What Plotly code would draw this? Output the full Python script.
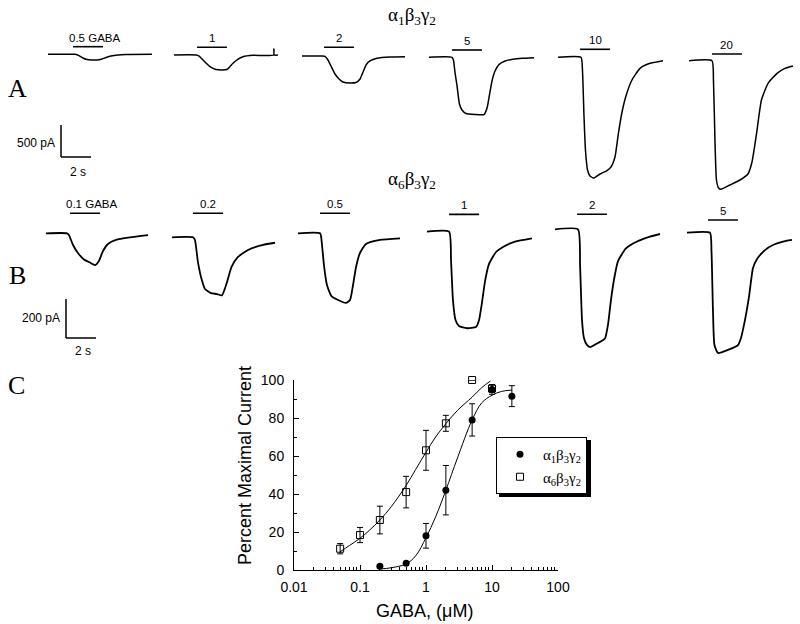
import plotly.graph_objects as go

W, H = 800, 624

# ---------------- Panel A: alpha1beta3gamma2 current traces (time s, current pA) ----------------
A_labels = ["0.5 GABA", "1", "2", "5", "10", "20"]
A1_t = [0, 0.8, 1.8, 2.07, 2.33, 2.6, 2.93, 3.27, 3.6, 3.87, 4.2, 4.67, 5.2, 6.93]
A1_i = [0, 0, 0, -20, -58, -81, -89, -89, -73, -50, -27, -11, -3, 0]
A2_t = [0, 1.47, 1.67, 2.0, 2.4, 2.8, 3.2, 3.53, 3.93, 4.27, 4.6, 5.27, 6.64, 6.66, 6.68, 6.93]
A2_i = [0, 0, -16, -94, -182, -227, -234, -227, -130, -63, -26, -5, 0, 95, 0, 0]
A3_t = [0, 1.33, 1.53, 1.73, 1.93, 2.2, 2.47, 2.73, 3.2, 3.6, 3.87, 4.07, 4.27, 4.53, 5.0, 5.87, 6.87]
A3_i = [0, 0, -5, -62, -156, -281, -359, -406, -422, -414, -359, -250, -141, -78, -36, -16, -11]
A4_t = [0, 1.53, 1.63, 1.73, 1.87, 2.03, 2.2, 2.47, 3.07, 3.67, 3.87, 4.03, 4.2, 4.4, 4.67, 5.07, 5.6, 6.2, 7.0]
A4_i = [0, 0, -42, -230, -448, -730, -823, -878, -894, -894, -792, -589, -370, -214, -113, -58, -31, -16, -6]
A5_t = [0, 1.53, 1.63, 1.73, 1.83, 1.97, 2.13, 2.37, 2.8, 3.27, 3.53, 3.8, 4.03, 4.27, 4.53, 4.93, 5.47, 6.13, 7.0]
A5_i = [0, 0, -198, -902, -1448, -1761, -1855, -1886, -1823, -1769, -1714, -1558, -1183, -855, -605, -355, -172, -94, -53]
A6_t = [0, 1.53, 1.63, 1.73, 1.83, 1.97, 2.13, 2.73, 3.4, 3.93, 4.2, 4.5, 4.83, 5.27, 5.87, 6.4, 6.93]
A6_i = [0, 0, -302, -1239, -1864, -1989, -2009, -1942, -1864, -1770, -1583, -1145, -614, -353, -197, -119, -83]
A_onset = [1.67, 1.53, 1.47, 1.53, 1.47, 1.53]   # GABA application start (s), 2 s long

# ---------------- Panel B: alpha6beta3gamma2 current traces ----------------
B_labels = ["0.1 GABA", "0.2", "0.5", "1", "2", "5"]
B1_t = [0, 1.4, 1.53, 1.8, 2.13, 2.53, 2.93, 3.27, 3.53, 3.8, 4.13, 4.67, 5.6, 6.8]
B1_i = [0, 0, -9, -60, -101, -134, -150, -163, -142, -91, -55, -34, -21, -9]
B2_t = [0, 1.4, 1.53, 1.73, 1.97, 2.2, 2.6, 3.0, 3.33, 3.63, 3.97, 4.4, 5.07, 6.07, 6.87]
B2_i = [0, 0, -14, -127, -214, -265, -286, -291, -298, -239, -152, -101, -65, -39, -28]
B3_t = [0, 1.47, 1.6, 1.73, 1.93, 2.23, 2.67, 3.2, 3.47, 3.67, 3.87, 4.13, 4.53, 5.47, 6.8]
B3_i = [0, 0, -60, -163, -265, -322, -342, -357, -342, -265, -173, -101, -55, -34, -26]
B4_t = [0, 1.47, 1.6, 1.73, 1.9, 2.13, 2.67, 3.27, 3.47, 3.67, 3.87, 4.13, 4.6, 5.07, 5.87, 7.0]
B4_i = [0, 0, -145, -350, -453, -484, -495, -489, -453, -361, -253, -166, -104, -78, -51, -34]
B5_t = [0, 1.53, 1.67, 1.8, 1.93, 2.13, 2.33, 2.87, 3.33, 3.53, 3.73, 3.93, 4.2, 4.73, 5.4, 6.33, 7.0]
B5_i = [0, 0, -183, -465, -557, -593, -604, -583, -560, -491, -363, -260, -163, -98, -65, -38, -24]
B6_t = [0, 1.53, 1.63, 1.73, 1.83, 2.07, 2.73, 3.4, 3.6, 3.8, 4.13, 4.4, 4.67, 5.2, 5.73, 6.4, 7.0]
B6_i = [0, 0, -89, -396, -576, -617, -601, -576, -540, -473, -330, -181, -135, -89, -63, -46, -37]
B_onset = [1.6, 1.4, 1.47, 1.47, 1.47, 1.4]

# ---------------- Panel C: concentration-response ----------------
conc_a1 = [0.2, 0.5, 1, 2, 5, 10, 20]
resp_a1 = [2, 3.5, 18, 42, 79, 95, 91.5]
err_a1 = [0, 0, 6.5, 13, 8.5, 2.5, 5.5]
conc_a6 = [0.05, 0.1, 0.2, 0.5, 1, 2, 5, 10]
resp_a6 = [11.2, 18.4, 26.3, 41, 63, 77.2, 100, 95.5]
err_a6 = [2.7, 4, 7.3, 8.3, 10.5, 4.2, 0, 2]
fit_a1_x = [0.2, 0.3, 0.5, 0.7, 1, 1.4, 2, 3, 5, 7, 10, 14, 20]
fit_a1_y = [0.5, 1.2, 3.2, 7.5, 17, 28, 42, 59, 79, 88, 92, 94, 94.7]
fit_a6_x = [0.05, 0.07, 0.1, 0.14, 0.2, 0.3, 0.5, 0.7, 1, 1.4, 2, 3, 5, 7, 9.5]
fit_a6_y = [9.6, 13, 16.7, 21, 26.3, 33.5, 44.5, 53, 62, 70, 77, 84, 91, 96, 99.5]
x_ticks = [0.01, 0.1, 1, 10, 100]
x_ticktext = ["0.01", "0.1", "1", "10", "100"]
y_ticks = [0, 20, 40, 60, 80, 100]

# ---------------- layout parameters (pixels) ----------------
PX_PER_S = 15.0
A_PX_PER_PA = 32 / 500.0
B_PX_PER_PA = 39 / 200.0
A_x0 = [48, 174, 302, 429, 558, 689]
A_base = [54.3, 55, 56, 57.3, 57.3, 60.7]
A_bar = [119, 120, 136, 114, 125, 105]
B_x0 = [46, 172, 298, 427, 555, 687]
B_base = [233.3, 237.3, 233.3, 231.7, 229.3, 232.7]
B_bar = [103, 123, 103, 89, 77, 65]
A_yr = [-2150, 300]
B_yr = [-700, 150]
T_SPAN = 7.0

SANS = "Liberation Sans, Arial, sans-serif"
SERIF = "Liberation Serif, Times New Roman, serif"


def px(y):
    return 1 - y / H


fig = go.Figure()
axes = {}
shapes = []
annotations = []
ax_n = [2]


def text(x, y, s, size, family=SANS, **kw):
    d = dict(xref="paper", yref="paper", x=x / W, y=px(y), text=s, showarrow=False,
             xanchor="center", yanchor="middle", font=dict(family=family, size=size, color="black"))
    d.update(kw)
    return d


def add_row(times, currents, labels, onsets, x0s, bases, bars, ppa, yr, lw):
    refs = []
    for t, cur, lab, on, x0, base, bar in zip(times, currents, labels, onsets, x0s, bases, bars):
        n = ax_n[0]
        ax_n[0] += 1
        xa, ya = f"x{n}", f"y{n}"
        axes[f"xaxis{n}"] = dict(domain=[x0 / W, (x0 + T_SPAN * PX_PER_S) / W], range=[0, T_SPAN],
                                 visible=False, fixedrange=True, anchor=ya, automargin=False)
        top = base - yr[1] * ppa
        bot = base - yr[0] * ppa
        axes[f"yaxis{n}"] = dict(domain=[px(bot), px(top)], range=yr, visible=False,
                                 fixedrange=True, anchor=xa, automargin=False)
        fig.add_trace(go.Scatter(x=t, y=cur, mode="lines", xaxis=xa, yaxis=ya,
                                 line=dict(color="black", width=lw, shape="spline", smoothing=0.5),
                                 showlegend=False, hoverinfo="skip"))
        shapes.append(dict(type="line", xref=xa, yref=ya, x0=on, x1=on + 2.0, y0=bar, y1=bar,
                           line=dict(color="black", width=1.6)))
        annotations.append(dict(xref=xa, yref=ya, x=on + 1.0, y=bar, xanchor="center",
                                yanchor="bottom", yshift=1, xshift=6 if "GABA" in lab else 0,
                                text=lab, showarrow=False,
                                font=dict(family=SANS, size=11.5, color="black")))
        refs.append((xa, ya))
    return refs


A_refs = add_row([A1_t, A2_t, A3_t, A4_t, A5_t, A6_t], [A1_i, A2_i, A3_i, A4_i, A5_i, A6_i],
                 A_labels, A_onset, A_x0, A_base, A_bar, A_PX_PER_PA, A_yr, 1.5)
B_refs = add_row([B1_t, B2_t, B3_t, B4_t, B5_t, B6_t], [B1_i, B2_i, B3_i, B4_i, B5_i, B6_i],
                 B_labels, B_onset, B_x0, B_base, B_bar, B_PX_PER_PA, B_yr, 1.8)


# scale bars (in data units of the first trace of each row)
def scale_bar(ref, t0, i0, amp, label_amp, lx, ly, sx, sy):
    xa, ya = ref
    shapes.append(dict(type="line", xref=xa, yref=ya, x0=t0, x1=t0, y0=i0, y1=i0 + amp,
                       line=dict(color="black", width=1.5)))
    shapes.append(dict(type="line", xref=xa, yref=ya, x0=t0, x1=t0 + 2.0, y0=i0, y1=i0,
                       line=dict(color="black", width=1.5)))
    annotations.append(text(lx, ly, label_amp, 12))
    annotations.append(text(sx, sy, "2 s", 12))


scale_bar(A_refs[0], (61 - 48) / PX_PER_S, -(157 - 54.3) / A_PX_PER_PA, 500, "500 pA", 36, 143, 78, 172)
scale_bar(B_refs[0], (66 - 46) / PX_PER_S, -(338 - 233.3) / B_PX_PER_PA, 200, "200 pA", 41, 318, 83, 351)

# ---------------- Panel C traces ----------------
fig.add_trace(go.Scatter(x=fit_a1_x, y=fit_a1_y, mode="lines", xaxis="x", yaxis="y",
                         line=dict(color="black", width=1, shape="spline"), showlegend=False,
                         hoverinfo="skip", cliponaxis=False))
fig.add_trace(go.Scatter(x=fit_a6_x, y=fit_a6_y, mode="lines", xaxis="x", yaxis="y",
                         line=dict(color="black", width=1, shape="spline"), showlegend=False,
                         hoverinfo="skip", cliponaxis=False))
fig.add_trace(go.Scatter(x=conc_a1, y=resp_a1, mode="markers", xaxis="x", yaxis="y",
                         name="α<sub>1</sub>β<sub>3</sub>γ<sub>2</sub>",
                         marker=dict(symbol="circle", size=7, color="black"),
                         error_y=dict(type="data", array=err_a1, color="black", thickness=1, width=3),
                         cliponaxis=False, legendrank=1))
fig.add_trace(go.Scatter(x=conc_a6, y=resp_a6, mode="markers", xaxis="x", yaxis="y",
                         name="α<sub>6</sub>β<sub>3</sub>γ<sub>2</sub>",
                         marker=dict(symbol="square-open", size=7, color="black", line=dict(width=1)),
                         error_y=dict(type="data", array=err_a6, color="black", thickness=1, width=3),
                         cliponaxis=False, legendrank=2))

minor_x = [m * 10 ** k for k in range(-2, 2) for m in range(2, 10)]

# titles / panel letters / axis titles
annotations += [
    text(412, 16, "α<sub>1</sub>β<sub>3</sub>γ<sub>2</sub>", 19, SERIF),
    text(412, 180, "α<sub>6</sub>β<sub>3</sub>γ<sub>2</sub>", 19, SERIF),
    text(17, 89, "A", 26, SERIF),
    text(17, 275, "B", 26, SERIF),
    text(16, 385, "C", 26, SERIF),
    text(245, 466, "Percent Maximal Current", 18, textangle=-90),
    text(424, 611, "GABA, (μM)", 18),
]

# legend drop shadow
shapes.append(dict(type="rect", xref="paper", yref="paper", x0=499 / W, x1=591 / W,
                   y0=px(497), y1=px(440), fillcolor="black", line=dict(width=0), layer="above"))

fig.update_layout(
    template="none",
    width=W, height=H, margin=dict(l=0, r=0, t=0, b=0, pad=0), autosize=False,
    paper_bgcolor="white", plot_bgcolor="rgba(0,0,0,0)",
    xaxis=dict(type="log", range=[-2, 2], domain=[294 / W, 558 / W], anchor="y", automargin=False,
               showline=True, linecolor="black", linewidth=1, showgrid=False, zeroline=False,
               ticks="inside", ticklen=5, tickcolor="black", tickvals=x_ticks, ticktext=x_ticktext,
               tickfont=dict(family=SANS, size=14, color="black"), ticklabelstandoff=4,
               minor=dict(tickvals=minor_x, ticks="inside", ticklen=3, tickcolor="black", showgrid=False),
               fixedrange=True),
    yaxis=dict(range=[0, 100], domain=[px(570), px(380)], anchor="x", automargin=False,
               showline=True, linecolor="black", linewidth=1, showgrid=False, zeroline=False,
               ticks="inside", ticklen=5, tickcolor="black", tickvals=y_ticks,
               tickfont=dict(family=SANS, size=14, color="black"), ticklabelstandoff=6,
               minor=dict(dtick=10, ticks="inside", ticklen=3, tickcolor="black", showgrid=False),
               fixedrange=True),
    showlegend=True,
    legend=dict(x=496 / W, y=px(437), xanchor="left", yanchor="top", bgcolor="white",
                bordercolor="black", borderwidth=1, font=dict(family=SERIF, size=15, color="black"),
                itemwidth=36),
    shapes=shapes, annotations=annotations,
    **axes,
)

fig.write_html("out.html", config={"displayModeBar": False, "staticPlot": True},
               post_script="document.body.style.margin='0px';document.body.style.overflow='hidden';")
